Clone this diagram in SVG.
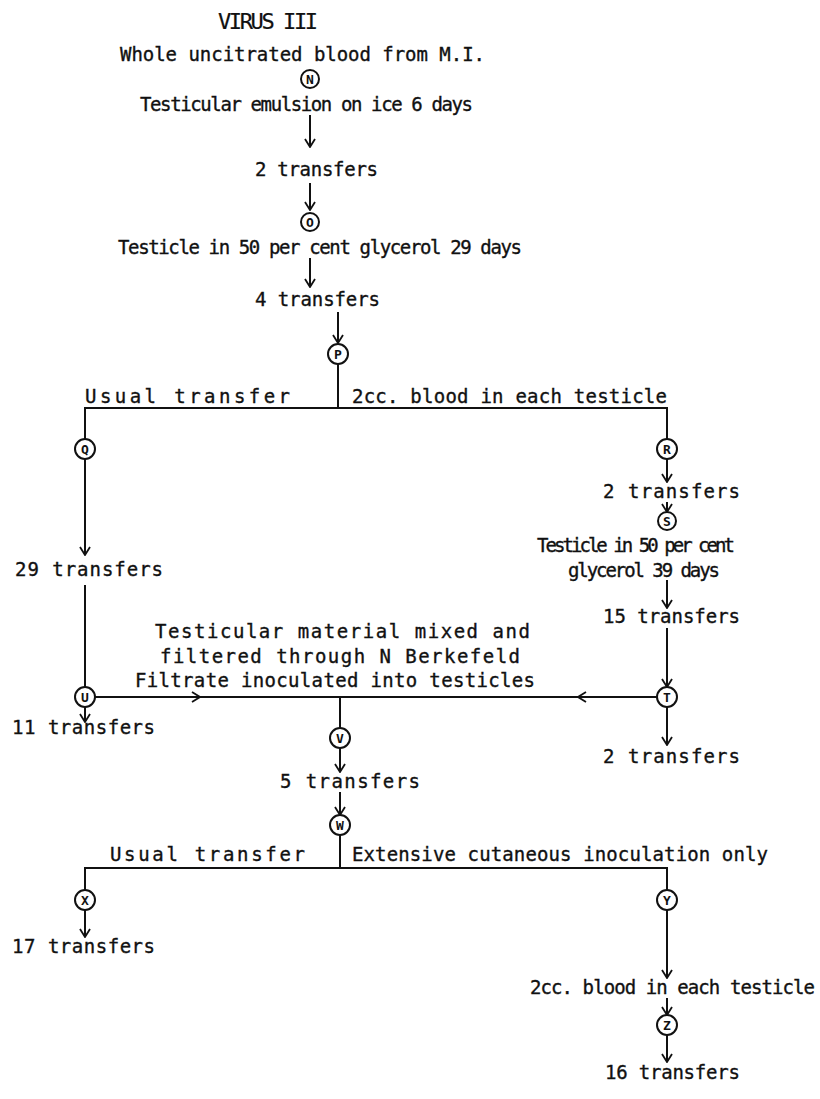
<svg xmlns="http://www.w3.org/2000/svg" width="820" height="1099" viewBox="0 0 820 1099">
<style>
text{font-family:"DejaVu Sans Mono","Liberation Mono",monospace;font-size:19px;fill:#111;stroke:#111;stroke-width:0.35}
.t{font-size:22px;stroke-width:0.2}
.n circle{fill:#fff;stroke:#111;stroke-width:2}
.n text{font-size:13px;font-weight:bold;text-anchor:middle;stroke:none}
.c line,.c path{stroke:#111;stroke-width:2;fill:none}
</style>
<defs>
<marker id="h" viewBox="0 0 10 12" refX="9" refY="6" markerWidth="10" markerHeight="12" markerUnits="userSpaceOnUse" orient="auto">
<path d="M1,1 L9,6 L1,11" fill="none" stroke="#111" stroke-width="1.8"/>
</marker>
</defs>
<rect width="820" height="1099" fill="#fff"/>
<g class="c" id="connectors">
<line x1="310" y1="115" x2="310" y2="147" marker-end="url(#h)"/>
<line x1="310" y1="183" x2="310" y2="210" marker-end="url(#h)"/>
<line x1="310" y1="258" x2="310" y2="287" marker-end="url(#h)"/>
<line x1="338" y1="312" x2="338" y2="343" marker-end="url(#h)"/>
<line x1="338" y1="364" x2="338" y2="408"/>
<path d="M85,439 V408 H667 V439"/>
<line x1="85" y1="459" x2="85" y2="555" marker-end="url(#h)"/>
<line x1="85" y1="585" x2="85" y2="687"/>
<line x1="667" y1="459" x2="667" y2="482" marker-end="url(#h)"/>
<line x1="667" y1="502" x2="667" y2="512" marker-end="url(#h)"/>
<line x1="667" y1="580" x2="667" y2="608" marker-end="url(#h)"/>
<line x1="667" y1="628" x2="667" y2="687" marker-end="url(#h)"/>
<line x1="95" y1="697" x2="657" y2="697"/>
<line x1="95" y1="697" x2="200" y2="697" marker-end="url(#h)"/>
<line x1="657" y1="697" x2="578" y2="697" marker-end="url(#h)"/>
<line x1="340" y1="697" x2="340" y2="728"/>
<line x1="85" y1="707" x2="85" y2="722" marker-end="url(#h)"/>
<line x1="667" y1="707" x2="667" y2="745" marker-end="url(#h)"/>
<line x1="340" y1="748" x2="340" y2="772" marker-end="url(#h)"/>
<line x1="340" y1="792" x2="340" y2="815" marker-end="url(#h)"/>
<line x1="340" y1="835" x2="340" y2="868"/>
<path d="M85,890 V868 H667 V890"/>
<line x1="85" y1="910" x2="85" y2="937" marker-end="url(#h)"/>
<line x1="667" y1="910" x2="667" y2="978" marker-end="url(#h)"/>
<line x1="667" y1="998" x2="667" y2="1015" marker-end="url(#h)"/>
<line x1="667" y1="1035" x2="667" y2="1062" marker-end="url(#h)"/>
</g>
<g id="labels">
<text class="t" x="218" y="29" textLength="100">VIRUS III</text>
<text x="120" y="61" textLength="365">Whole uncitrated  blood from M.I.</text>
<text x="140" y="111" textLength="333">Testicular emulsion on ice 6 days</text>
<text x="255" y="176" textLength="123">2 transfers</text>
<text x="118" y="254" textLength="404">Testicle in 50 per cent glycerol 29 days</text>
<text x="255" y="306" textLength="125">4 transfers</text>
<text x="85" y="403" textLength="205">Usual transfer</text>
<text x="352" y="403" textLength="315">2cc. blood in each testicle</text>
<text x="15" y="576" textLength="148">29 transfers</text>
<text x="603" y="498" textLength="137">2 transfers</text>
<text x="537" y="552" textLength="198">Testicle in 50 per cent</text>
<text x="568" y="577" textLength="152">glycerol 39 days</text>
<text x="603" y="623" textLength="137">15 transfers</text>
<text x="155" y="638" textLength="375">Testicular material mixed and</text>
<text x="160" y="663" textLength="360">filtered through N Berkefeld</text>
<text x="135" y="687" textLength="400">Filtrate inoculated into testicles</text>
<text x="12" y="734" textLength="143">11 transfers</text>
<text x="603" y="763" textLength="137">2 transfers</text>
<text x="280" y="788" textLength="140">5 transfers</text>
<text x="110" y="861" textLength="195">Usual transfer</text>
<text x="352" y="861" textLength="416">Extensive cutaneous inoculation only</text>
<text x="12" y="953" textLength="143">17 transfers</text>
<text x="530" y="994" textLength="285">2cc. blood in each testicle</text>
<text x="605" y="1079" textLength="135">16 transfers</text>
</g>
<g class="n" id="node-N"><circle cx="310" cy="79" r="9"/><text x="310" y="84">N</text></g>
<g class="n" id="node-O"><circle cx="310" cy="222" r="9"/><text x="310" y="227">O</text></g>
<g class="n" id="node-P"><circle cx="338" cy="354" r="10"/><text x="338" y="359">P</text></g>
<g class="n" id="node-Q"><circle cx="85" cy="449" r="10"/><text x="85" y="454">Q</text></g>
<g class="n" id="node-R"><circle cx="667" cy="449" r="10"/><text x="667" y="454">R</text></g>
<g class="n" id="node-S"><circle cx="667" cy="521" r="9"/><text x="667" y="526">S</text></g>
<g class="n" id="node-T"><circle cx="667" cy="697" r="10"/><text x="667" y="702">T</text></g>
<g class="n" id="node-U"><circle cx="85" cy="697" r="10"/><text x="85" y="702">U</text></g>
<g class="n" id="node-V"><circle cx="340" cy="738" r="10"/><text x="340" y="743">V</text></g>
<g class="n" id="node-W"><circle cx="340" cy="825" r="10"/><text x="340" y="830">W</text></g>
<g class="n" id="node-X"><circle cx="85" cy="900" r="10"/><text x="85" y="905">X</text></g>
<g class="n" id="node-Y"><circle cx="667" cy="900" r="10"/><text x="667" y="905">Y</text></g>
<g class="n" id="node-Z"><circle cx="667" cy="1025" r="10"/><text x="667" y="1030">Z</text></g>
</svg>
